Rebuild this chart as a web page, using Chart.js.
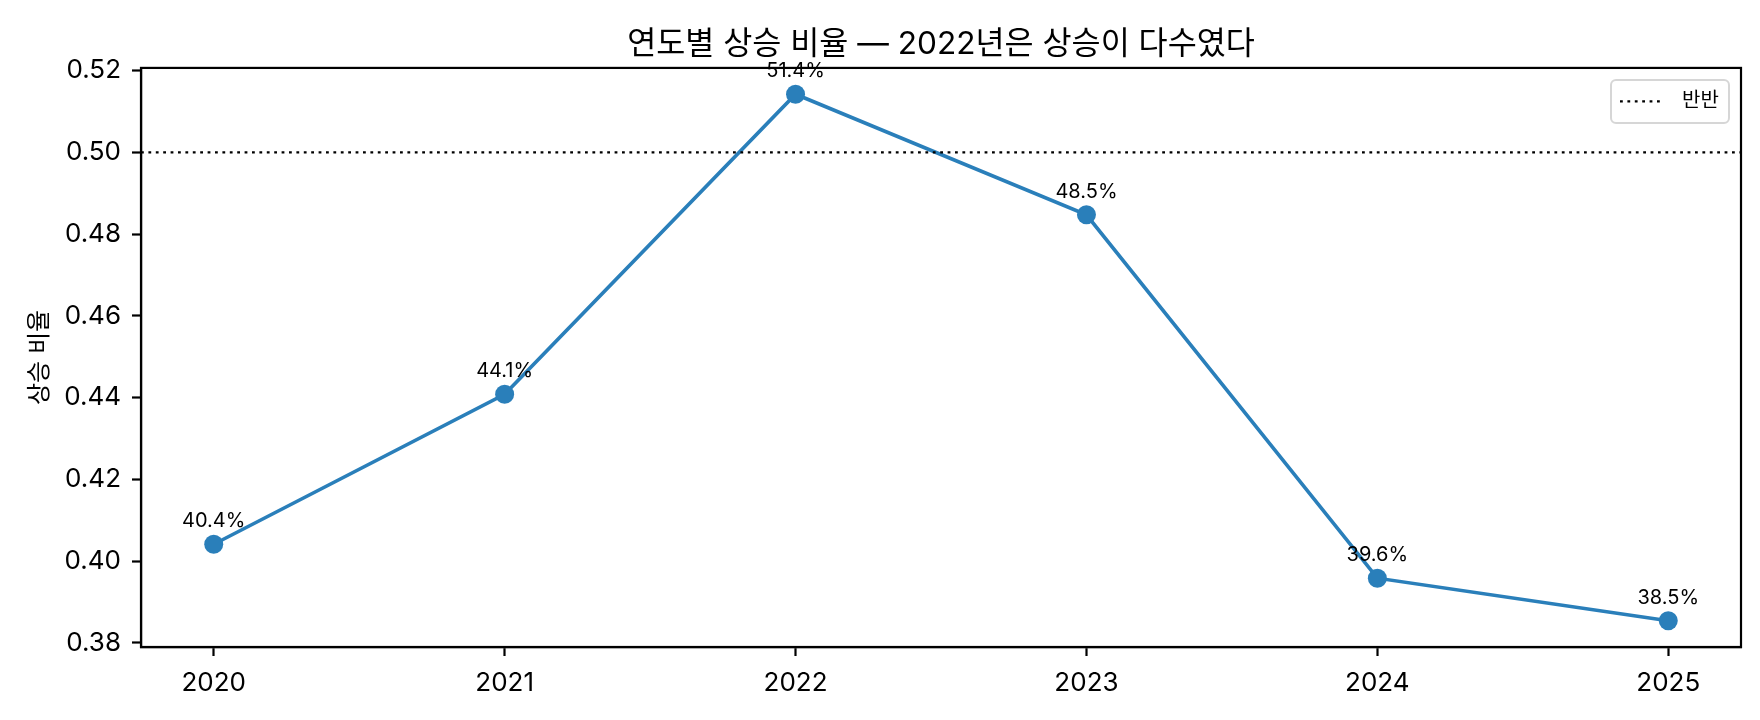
<!DOCTYPE html>
<html>
<head>
<meta charset="utf-8">
<script src="https://cdn.jsdelivr.net/npm/chart.js@4"></script>
<style>
  html, body { margin: 0; padding: 0; background: #fff; }
  #wrap { width: 1760px; height: 720px; }
</style>
</head>
<body>
<div id="wrap"><canvas id="rateChart" width="1760" height="720"></canvas></div>
<script>
const years = ['2020', '2021', '2022', '2023', '2024', '2025'];
const upRatio = [0.4041, 0.4408, 0.5142, 0.4847, 0.3958, 0.3854];
const yTicks = [0.38, 0.40, 0.42, 0.44, 0.46, 0.48, 0.50, 0.52];
const halfLine = 0.5;
const halfLabel = '반반';
const titleText = '연도별 상승 비율 — 2022년은 상승이 다수였다';
const yTitle = '상승 비율';

const FONT = "Inter, 'Noto Sans CJK KR', sans-serif";
const BLUE = '#2a7fba';

// axis bounds: 5% margin around the data, like the original
const xMin = -0.25, xMax = years.length - 1 + 0.25;
const span = Math.max(...upRatio) - Math.min(...upRatio);
const yMin = Math.min(...upRatio) - span * 0.05;
const yMax = Math.max(...upRatio) + span * 0.05;

const framePlugin = {
    id: 'frame',
    afterDatasetsDraw(chart) {
        const { ctx, chartArea: a } = chart;
        ctx.save();
        ctx.strokeStyle = '#000';
        ctx.lineWidth = 2.2;
        ctx.strokeRect(a.left, a.top, a.right - a.left, a.bottom - a.top);

        // value labels above the points
        const meta = chart.getDatasetMeta(1);
        ctx.fillStyle = '#000';
        ctx.font = '20px ' + FONT;
        ctx.textAlign = 'center';
        ctx.textBaseline = 'middle';
        meta.data.forEach((pt, i) => {
            ctx.fillText((upRatio[i] * 100).toFixed(1) + '%', pt.x, pt.y - 23);
        });

        // legend box, top right inside the axes
        const ds = chart.data.datasets[0];
        const bx = a.right - 130, by = a.top + 12, bw = 118, bh = 43;
        ctx.beginPath();
        ctx.roundRect(bx, by, bw, bh, 5);
        ctx.fillStyle = 'rgba(255,255,255,0.8)';
        ctx.fill();
        ctx.strokeStyle = '#d6d6d6';
        ctx.lineWidth = 2;
        ctx.stroke();
        ctx.beginPath();
        ctx.setLineDash(ds.borderDash);
        ctx.strokeStyle = ds.borderColor;
        ctx.lineWidth = ds.borderWidth;
        ctx.moveTo(bx + 9, by + bh / 2);
        ctx.lineTo(bx + 49, by + bh / 2);
        ctx.stroke();
        ctx.setLineDash([]);
        ctx.fillStyle = '#000';
        ctx.textAlign = 'left';
        ctx.fillText(ds.label, bx + 71, by + bh / 2);
        ctx.restore();
    }
};

const ctx = document.getElementById('rateChart').getContext('2d');
new Chart(ctx, {
    type: 'line',
    data: {
        datasets: [{
            label: halfLabel,
            data: [{ x: xMin, y: halfLine }, { x: xMax, y: halfLine }],
            borderColor: '#000',
            borderWidth: 2.2,
            borderDash: [2.8, 4.6],
            pointRadius: 0,
            fill: false
        }, {
            label: yTitle,
            data: upRatio.map((v, i) => ({ x: i, y: v })),
            borderColor: BLUE,
            backgroundColor: BLUE,
            borderWidth: 3.6,
            pointRadius: 9.5,
            pointHoverRadius: 9.5,
            pointBorderWidth: 0,
            tension: 0,
            fill: false
        }]
    },
    options: {
        responsive: false,
        animation: false,
        devicePixelRatio: 1,
        layout: { padding: { left: 0, right: 19, top: 0, bottom: 0 } },
        plugins: {
            legend: { display: false },
            tooltip: { enabled: false },
            title: {
                display: true,
                fullSize: false,
                text: titleText,
                color: '#000',
                font: { family: FONT, size: 31.6, weight: 'normal', lineHeight: 1.2 },
                padding: { top: 26, bottom: 4 }
            }
        },
        scales: {
            x: {
                type: 'linear',
                min: xMin,
                max: xMax,
                afterFit(scale) { scale.height = 73; },
                afterBuildTicks(scale) { scale.ticks = years.map((y, i) => ({ value: i })); },
                ticks: {
                    color: '#000',
                    font: { family: FONT, size: 26 },
                    padding: 12,
                    maxRotation: 0,
                    callback: (v) => years[v]
                },
                grid: { drawOnChartArea: false, drawTicks: true, tickLength: 9, tickColor: '#000', tickWidth: 2.2 },
                border: { display: true, color: '#000', width: 2.2 }
            },
            y: {
                type: 'linear',
                min: yMin,
                max: yMax,
                afterFit(scale) { scale.width = 141; },
                afterBuildTicks(scale) { scale.ticks = yTicks.map(v => ({ value: v })); },
                ticks: {
                    color: '#000',
                    font: { family: FONT, size: 26 },
                    padding: 11,
                    callback: (v) => v.toFixed(2)
                },
                title: {
                    display: true,
                    text: yTitle,
                    color: '#000',
                    font: { family: FONT, size: 24 },
                    padding: { top: 25, bottom: 0 }
                },
                grid: { drawOnChartArea: false, drawTicks: true, tickLength: 9, tickColor: '#000', tickWidth: 2.2 },
                border: { display: true, color: '#000', width: 2.2 }
            }
        }
    },
    plugins: [framePlugin]
});
</script>
</body>
</html>
